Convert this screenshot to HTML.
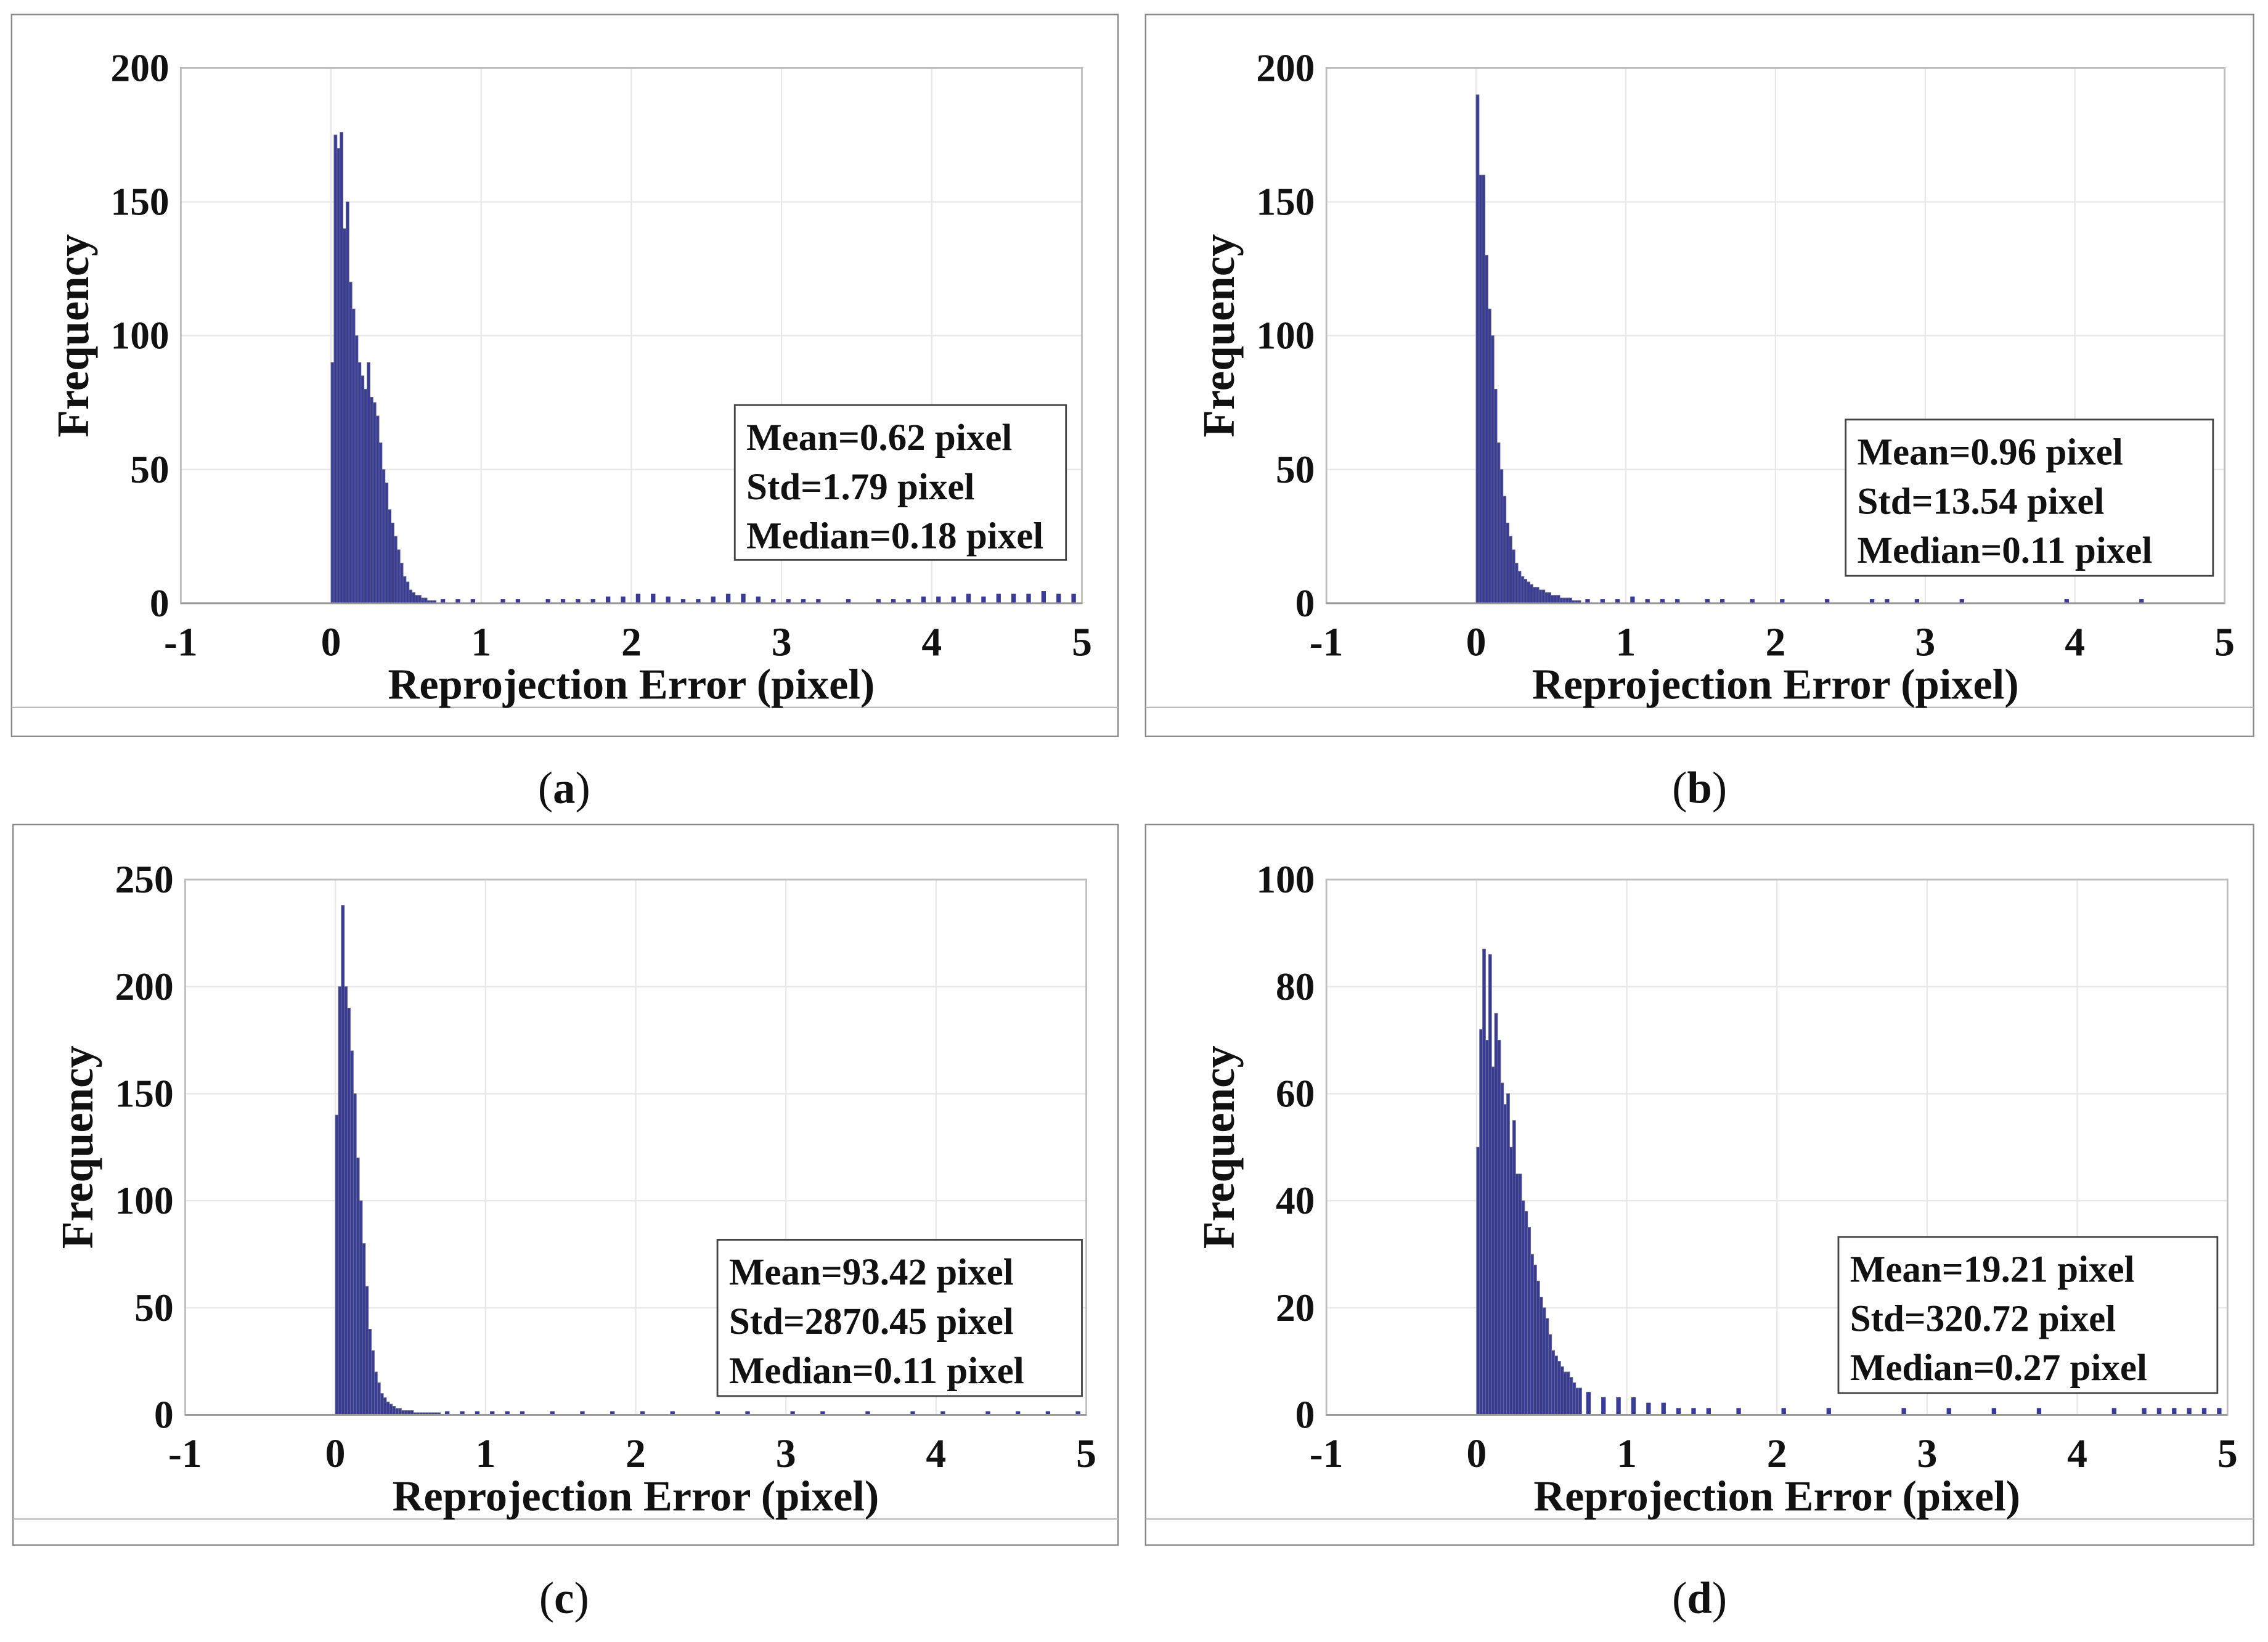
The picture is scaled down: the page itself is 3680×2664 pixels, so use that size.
<!DOCTYPE html>
<html><head><meta charset="utf-8"><style>
html,body{margin:0;padding:0;background:#fff;}
svg{display:block;}
text{font-family:"Liberation Serif",serif;font-weight:bold;fill:#111;}
</style></head><body>
<svg id="fig" width="3680" height="2664" viewBox="0 0 1568 1135" xmlns="http://www.w3.org/2000/svg"></svg>
<script>
// ---- data (bin width 0.02 from 0 for main arrays; tail bins 0.1 wide) ----
const xTicks = [-1,0,1,2,3,4,5];
const yTicksA = [0,50,100,150,200];
const yTicksB = [0,50,100,150,200];
const yTicksC = [0,50,100,150,200,250];
const yTicksD = [0,20,40,60,80,100];
const mainA = [90,175,170,176,140,150,120,110,100,90,85,80,90,77,75,70,60,50,45,35,30,25,20,15,10,8,5,4,3,3,2,2,1,1,1];
const tailA = [1,1,1,0,1,1,0,1,1,1,1,2,2,3,3,2,1,1,2,3,3,2,1,1,1,1,0,1,0,1,1,1,2,2,2,3,2,3,3,3,4,3,3];
const mainB = [190,160,160,130,110,100,80,60,50,40,30,25,20,15,12,10,9,8,7,6,6,5,5,4,4,3,3,3,2,2,2,2,1,1,1];
const tailB = [1,1,1,2,1,1,1,0,1,1,0,1,0,1,0,0,1,0,0,1,1,0,1,0,0,1,0,0,0,0,0,0,1,0,0,0,0,1,0,0,0,0,0];
const mainC = [140,200,238,200,190,170,150,120,100,80,60,40,30,20,15,10,8,6,5,4,3,3,2,2,2,2,1,1,1,1,1,1,1,1,1];
const tailC = [1,1,1,1,1,1,0,1,0,1,0,1,0,1,0,1,0,0,1,0,1,0,0,1,0,1,0,0,1,0,0,1,0,1,0,0,1,0,1,0,1,0,1];
const mainD = [50,72,87,70,86,65,75,70,62,58,60,50,55,45,45,40,38,35,30,28,25,22,20,18,15,12,11,10,9,8,8,7,6,5,5];
const tailD = [4,3,3,3,2,2,1,1,1,0,1,0,0,1,0,0,1,0,0,0,0,1,0,0,1,0,0,1,0,0,1,0,0,0,0,1,0,1,1,1,1,1,1];
const statsA = ["Mean=0.62 pixel","Std=1.79 pixel","Median=0.18 pixel"];
const statsB = ["Mean=0.96 pixel","Std=13.54 pixel","Median=0.11 pixel"];
const statsC = ["Mean=93.42 pixel","Std=2870.45 pixel","Median=0.11 pixel"];
const statsD = ["Mean=19.21 pixel","Std=320.72 pixel","Median=0.27 pixel"];

const NS="http://www.w3.org/2000/svg";
const svg=document.getElementById('fig');
function mk(tag,attrs,parent){const e=document.createElementNS(NS,tag);for(const k in attrs)e.setAttribute(k,attrs[k]);(parent||svg).appendChild(e);return e;}

const panels=[
 {id:'a',frame:[8,10,773,509],sep:489,plot:[125,47,748,417],yT:yTicksA,ymax:200,main:mainA,tail:tailA,stats:statsA,leg:[508,280,737,387],cap:[390,545]},
 {id:'b',frame:[792,10,1558,509],sep:489,plot:[917,47,1538,417],yT:yTicksB,ymax:200,main:mainB,tail:tailB,stats:statsB,leg:[1276,290,1530,398],cap:[1175,545]},
 {id:'c',frame:[9,570,773,1068],sep:1050,plot:[128,608,751,978],yT:yTicksC,ymax:250,main:mainC,tail:tailC,stats:statsC,leg:[496,857,748,965],cap:[390,1105]},
 {id:'d',frame:[792,570,1558,1068],sep:1050,plot:[917,608,1540,978],yT:yTicksD,ymax:100,main:mainD,tail:tailD,stats:statsD,leg:[1271,855,1533,963],cap:[1175,1105]}
];

panels.forEach(p=>{
 const g=mk('g',{});
 
 
 const [fx0,fy0,fx1,fy1]=p.frame;
 const fr=mk('rect',{x:fx0,y:fy0,width:fx1-fx0,height:fy1-fy0,fill:'#fff',stroke:'#888','stroke-width':1},g);
 
 
 mk('line',{x1:fx0,x2:fx1,y1:p.sep,y2:p.sep,stroke:'#bbb','stroke-width':1},g);
 const [px0,py0,px1,py1]=p.plot;
 const xs=v=>px0+(v+1)/6*(px1-px0);
 const ys=v=>py1-v/p.ymax*(py1-py0);
 xTicks.forEach(t=>{
  const l=mk('line',{x1:xs(t),x2:xs(t),y1:py0,y2:py1,stroke:'#e8e8e8','stroke-width':1},g);
  
  
  const tx=mk('text',{x:xs(t),y:py1+36,'text-anchor':'middle','font-size':28},g);
  tx.textContent=t;
  
  
 });
 p.yT.forEach(t=>{
  mk('line',{x1:px0,x2:px1,y1:ys(t),y2:ys(t),stroke:'#e8e8e8','stroke-width':1},g);
  const tx=mk('text',{x:px0-8,y:ys(t)+9,'text-anchor':'end','font-size':27},g);
  tx.textContent=t;
  
  
 });
 const box=mk('rect',{x:px0,y:py0,width:px1-px0,height:py1-py0,fill:'none',stroke:'#bdbdbd','stroke-width':1.2},g);
 
 
 const bw=0.02;
 p.main.forEach((v,i)=>{
  if(!v)return;
  const x0=xs(i*bw),x1=xs((i+1)*bw);
  const r=mk('rect',{x:x0,y:ys(v),width:x1-x0,height:py1-ys(v),fill:'#383c97',stroke:'#6a6a8a','stroke-width':0.4},g);
  
  
 });
 const t0=p.main.length*bw, tw=(5-t0)/p.tail.length;
 p.tail.forEach((v,i)=>{
  if(!v)return;
  const x0=xs(t0+i*tw+tw*0.3),x1=xs(t0+i*tw+tw*0.6);
  const r=mk('rect',{x:x0,y:ys(v)-1,width:x1-x0,height:py1-ys(v)+1,fill:'#383c97'},g);
  
  
 });
 mk('line',{x1:px0,x2:px1,y1:py1,y2:py1,stroke:'#999','stroke-width':1.2},g);
 const xl=mk('text',{x:(px0+px1)/2,y:py1+66,'text-anchor':'middle','font-size':30},g);
 xl.textContent='Reprojection Error (pixel)';
 
 
 const yl=mk('text',{x:0,y:0,'text-anchor':'middle','font-size':31,transform:`translate(${px0-64},${(py0+py1)/2}) rotate(-90)`},g);
 yl.textContent='Frequency';
 
 
 const [lx0,ly0,lx1,ly1]=p.leg;
 const lg=mk('rect',{x:lx0,y:ly0,width:lx1-lx0,height:ly1-ly0,fill:'#fff',stroke:'#444','stroke-width':1.2},g);
 
 
 p.stats.forEach((s,i)=>{
  const t=mk('text',{x:lx0+8,y:ly0+31+i*34,'font-size':26},g);
  t.textContent=s;
  
  
 });
 const cap=mk('text',{x:p.cap[0],y:p.cap[1]+10,'text-anchor':'middle','font-size':31},g);
 cap.style.fontWeight='normal';
 cap.innerHTML='(<tspan style="font-weight:bold">'+p.id+'</tspan>)';
 
 
});
</script>
</body></html>
